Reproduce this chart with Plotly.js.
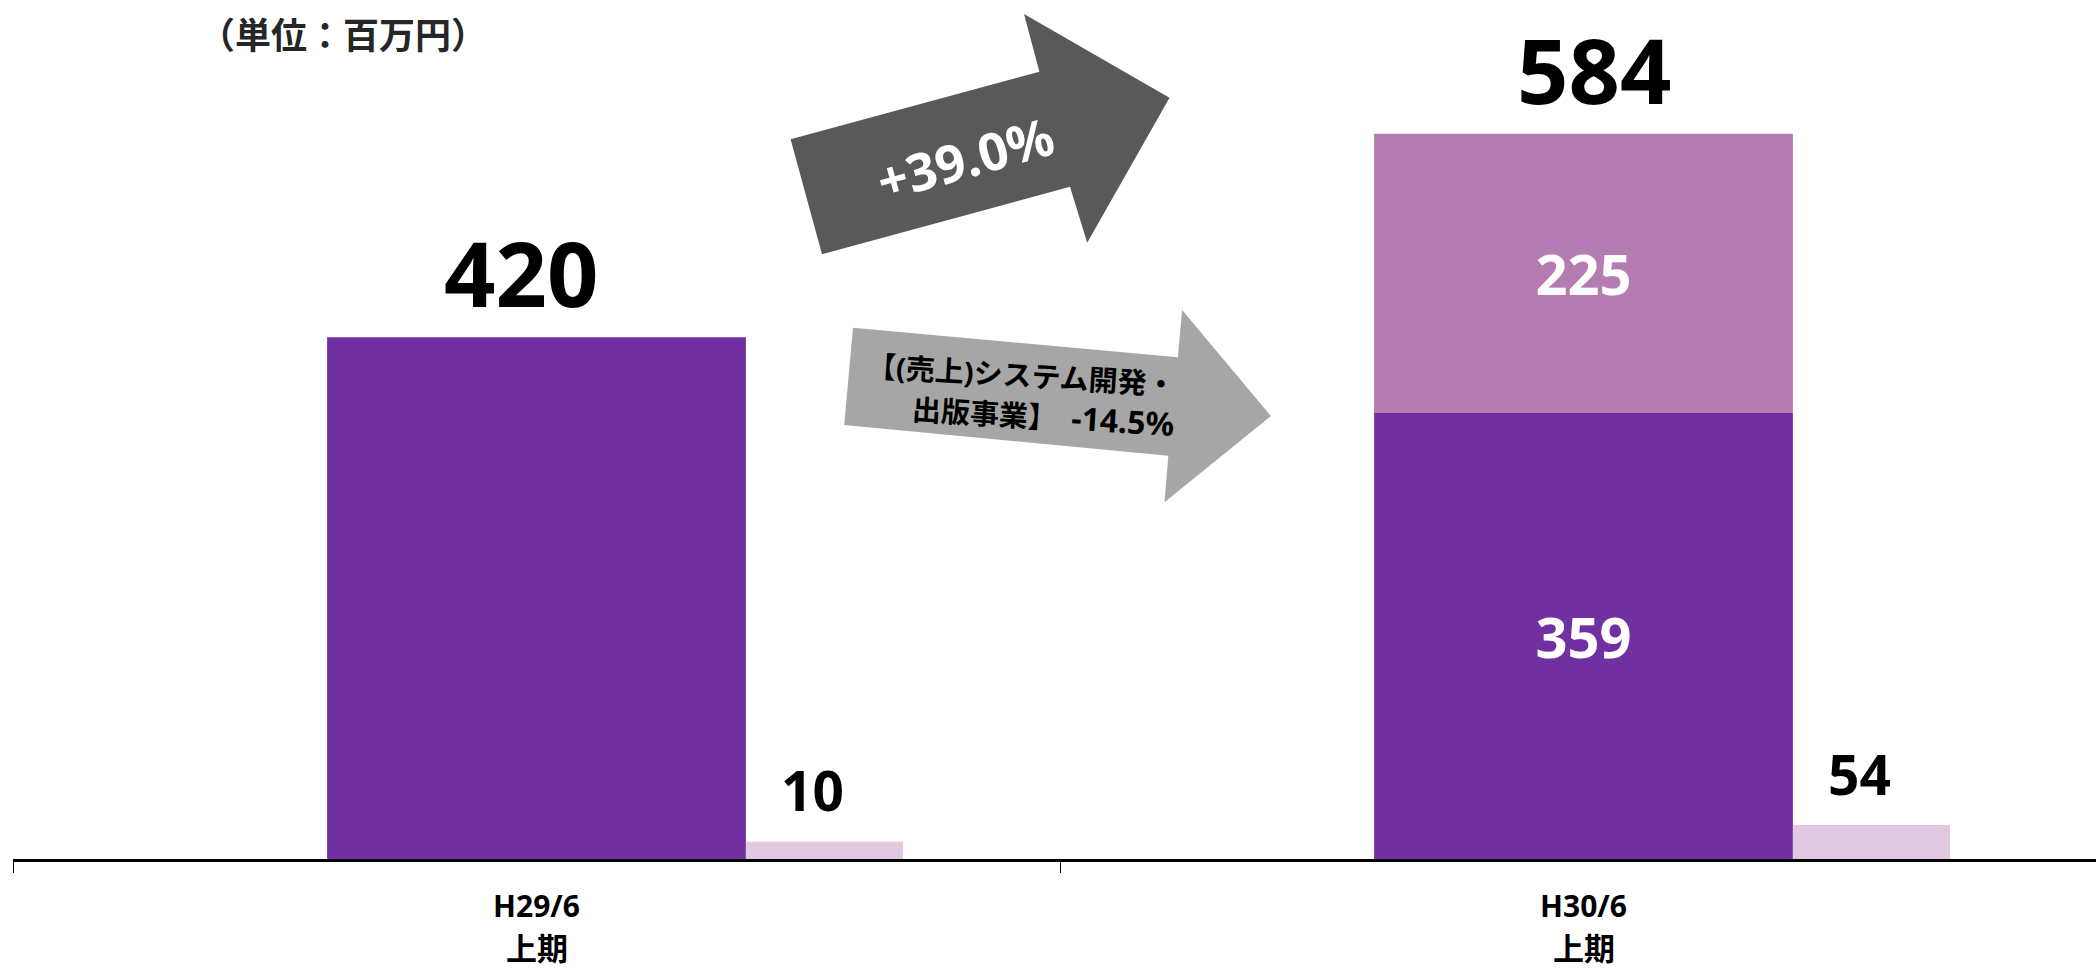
<!DOCTYPE html>
<html>
<head>
<meta charset="utf-8">
<script src="https://cdn.plot.ly/plotly-3.0.1.min.js"></script>
<style>
  html, body { margin: 0; padding: 0; background: #fff; }
  #chart { width: 2096px; height: 970px; }
</style>
</head>
<body>
<div id="chart"></div>
<script>
// ---- data ----
const categories = ['H29/6', 'H30/6'];
const periodLabels = ['上期', '上期'];
const salesBase = [420, 359];      // lower (dark purple) segment
const salesAdded = [null, 225];    // upper (mauve) segment
const profit = [10, 54];           // small light bars (secondary axis)
const unitLabel = '（単位：百万円）';
const growthTotalLabel = '+39.0%';
const growthSegmentLine1 = '【(売上)システム開発・';
const growthSegmentName2 = '出版事業】';
const growthSegmentValue = '-14.5%';

// ---- layout constants ----
const W = 2096, H = 970;
const M = { l: 13, r: 0, t: 0, b: 111 };
const PW = W - M.l - M.r, PH = H - M.t - M.b;
const FONT = "'Noto Sans', 'Noto Sans CJK JP', sans-serif";
const Y_MAX = 691.6;
const Y2_MIN = -35.6, Y2_MAX = 2228;
const MAIN_W = 0.4, MAIN_OFF = -0.2;
const SIDE_W = 0.15, SIDE_OFF = 0.2;
const TOTAL_XSHIFT = [-16, 10];

const totals = salesBase.map((v, i) => v + (salesAdded[i] || 0));

// pixel -> paper helpers for decorative shapes
const px = x => (x - M.l) / PW;
const py = y => (M.t + PH - y) / PH;
function pathFrom(points) {
  return points.map((p, i) => (i ? 'L' : 'M') + px(p[0]).toFixed(5) + ',' + py(p[1]).toFixed(5)).join(' ') + ' Z';
}
const arrowUp = [[790.6,139.3],[1039.4,71.7],[1024,14],[1169.5,97.7],[1087.2,242.7],[1070,186.7],[822,254.3]];
const arrowSide = [[853,327.7],[1177.9,357.3],[1182.1,310],[1270.9,416],[1164.5,502.3],[1168.3,455.7],[844.2,425]];

const traces = [
  {
    type: 'bar', x: categories, y: salesBase,
    width: MAIN_W, offset: MAIN_OFF,
    marker: { color: '#7030A0' },
    text: salesBase.map((v, i) => salesAdded[i] ? String(v) : ''),
    textposition: 'inside', insidetextanchor: 'middle',
    textfont: { family: FONT, size: 56, color: '#ffffff', weight: 'bold' },
    hoverinfo: 'none'
  },
  {
    type: 'bar', x: categories, y: salesAdded, base: salesBase,
    width: MAIN_W, offset: MAIN_OFF,
    marker: { color: '#B57CB2' },
    text: salesAdded.map(v => v ? String(v) : ''),
    textposition: 'inside', insidetextanchor: 'middle',
    textfont: { family: FONT, size: 56, color: '#ffffff', weight: 'bold' },
    hoverinfo: 'none'
  },
  {
    type: 'bar', x: categories, y: profit.map(v => v - Y2_MIN), base: Y2_MIN,
    yaxis: 'y2',
    width: SIDE_W, offset: SIDE_OFF,
    marker: { color: '#E1C9E1' },
    hoverinfo: 'none'
  }
];

const annotations = [];
totals.forEach((t, i) => {
  annotations.push({
    x: i, y: t, xref: 'x', yref: 'y', text: String(t), showarrow: false,
    xanchor: 'center', yanchor: 'middle', yshift: 65, xshift: TOTAL_XSHIFT[i],
    font: { family: FONT, size: 90, color: '#000', weight: 'bold' }
  });
});
profit.forEach((p, i) => {
  annotations.push({
    x: i + SIDE_OFF + SIDE_W / 2, y: p, xref: 'x', yref: 'y2', text: String(p), showarrow: false,
    xanchor: 'center', yanchor: 'middle', yshift: 52, xshift: -12,
    font: { family: FONT, size: 55, color: '#000', weight: 'bold' }
  });
});
periodLabels.forEach((lab, i) => {
  annotations.push({
    x: i, y: py(970), xref: 'x', yref: 'paper', text: lab, showarrow: false,
    xanchor: 'center', yanchor: 'bottom', borderpad: 0,
    font: { family: FONT, size: 31, color: '#000', weight: 'bold' }
  });
});
annotations.push({
  x: px(342.5), y: py(35), xref: 'paper', yref: 'paper', text: unitLabel, showarrow: false,
  xanchor: 'center', yanchor: 'middle',
  font: { family: FONT, size: 36, color: '#262626', weight: 'bold' }
});
annotations.push({
  x: px(965), y: py(158), xref: 'paper', yref: 'paper', text: growthTotalLabel, showarrow: false,
  xanchor: 'center', yanchor: 'middle', textangle: -15.5,
  font: { family: FONT, size: 52, color: '#ffffff', weight: 'bold' }
});
annotations.push({
  x: px(1021), y: py(374), xref: 'paper', yref: 'paper', text: growthSegmentLine1, showarrow: false,
  xanchor: 'center', yanchor: 'middle', textangle: 3.5,
  font: { family: FONT, size: 29, color: '#000', weight: 'bold' }
});
annotations.push({
  x: px(1043), y: py(416), xref: 'paper', yref: 'paper',
  text: growthSegmentName2 + '　<span style="font-size:32px">' + growthSegmentValue + '</span>',
  showarrow: false,
  xanchor: 'center', yanchor: 'middle', textangle: 3.5,
  font: { family: FONT, size: 29, color: '#000', weight: 'bold' }
});

const layout = {
  width: W, height: H,
  margin: M,
  paper_bgcolor: '#ffffff', plot_bgcolor: '#ffffff',
  barmode: 'overlay',
  showlegend: false,
  font: { family: FONT },
  xaxis: {
    type: 'category', range: [-0.5, -0.5 + PW / 1047],
    tickson: 'boundaries', ticks: 'outside', ticklen: 11, tickwidth: 1, tickcolor: '#000',
    showline: true, linewidth: 3, linecolor: '#000',
    showgrid: false, zeroline: false,
    ticklabelstandoff: 19,
    tickfont: { family: FONT, size: 30, color: '#000', weight: 'bold' },
    fixedrange: true
  },
  yaxis: { range: [0, Y_MAX], visible: false, showgrid: false, zeroline: false, fixedrange: true },
  yaxis2: { range: [Y2_MIN, Y2_MAX], overlaying: 'y', visible: false, showgrid: false, zeroline: false, fixedrange: true },
  shapes: [
    { type: 'path', xref: 'paper', yref: 'paper', path: pathFrom(arrowUp), fillcolor: '#595959', line: { width: 0 } },
    { type: 'path', xref: 'paper', yref: 'paper', path: pathFrom(arrowSide), fillcolor: '#A6A6A6', line: { width: 0 } }
  ],
  annotations: annotations
};

Plotly.newPlot('chart', traces, layout, { displayModeBar: false, staticPlot: true });
</script>
</body>
</html>
